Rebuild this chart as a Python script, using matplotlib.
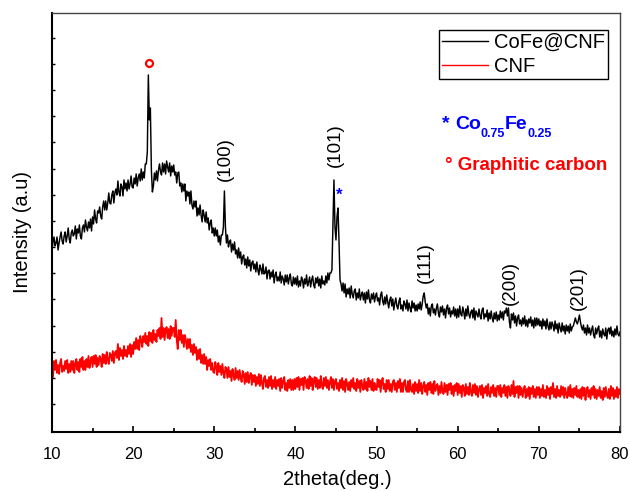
import matplotlib
matplotlib.use("Agg")
import matplotlib.pyplot as plt
import numpy as np

plt.rcParams["font.family"] = ["Liberation Sans", "DejaVu Sans"]

# 2theta scan, 0.125 deg step
two_theta = np.arange(10, 80.0001, 0.125)

# CoFe@CNF intensity (a.u.), one row per 5 degrees
cofe_cnf = [
    181, 190, 195, 186, 189, 195, 182, 189, 195, 200, 191, 188, 196, 200, 190, 196, 204, 193, 189, 199,
    202, 196, 198, 206, 193, 203, 199, 207, 196, 193, 204, 207, 200, 212, 205, 201, 210, 204, 213, 201,
    215, 208, 222, 213, 209, 221, 219, 225, 216, 213, 225, 231, 222, 231, 222, 229, 239, 229, 228, 237,
    241, 229, 239, 243, 237, 251, 240, 236, 248, 245, 236, 252, 243, 249, 241, 252, 243, 248, 256, 245,
    244, 254, 248, 258, 246, 254, 258, 251, 263, 252, 260, 254, 268, 268, 280, 357, 312, 324, 262, 240,
    246, 259, 252, 261, 251, 262, 268, 260, 257, 269, 260, 268, 258, 271, 265, 260, 269, 256, 266, 260,
    267, 257, 260, 249, 259, 260, 246, 249, 240, 248, 241, 248, 231, 241, 236, 240, 228, 241, 227, 223,
    231, 225, 231, 216, 224, 217, 227, 217, 210, 222, 217, 210, 220, 209, 214, 202, 209, 212, 199, 204,
    196, 204, 196, 202, 190, 196, 187, 197, 197, 205, 241, 205, 189, 197, 185, 190, 192, 180, 188, 182,
    190, 178, 182, 174, 184, 174, 180, 168, 175, 177, 167, 173, 164, 175, 166, 172, 161, 169, 171, 163,
    168, 160, 170, 162, 157, 167, 163, 158, 168, 158, 159, 165, 153, 161, 162, 153, 160, 155, 162, 149,
    157, 160, 151, 155, 151, 160, 149, 156, 153, 147, 157, 150, 157, 148, 154, 158, 148, 146, 155, 148,
    154, 147, 156, 145, 151, 146, 155, 152, 144, 153, 148, 157, 146, 150, 155, 145, 152, 156, 147, 144,
    154, 149, 155, 146, 153, 144, 156, 148, 151, 147, 156, 149, 159, 152, 159, 159, 162, 205, 252, 205,
    192, 215, 224, 190, 152, 148, 141, 149, 139, 148, 135, 143, 138, 144, 134, 146, 138, 134, 141, 143,
    132, 139, 134, 143, 132, 137, 140, 132, 139, 129, 140, 133, 142, 132, 129, 138, 133, 139, 130, 136,
    139, 131, 134, 127, 137, 140, 131, 127, 135, 128, 137, 130, 124, 132, 135, 126, 133, 122, 129, 134,
    126, 123, 130, 134, 123, 127, 121, 131, 128, 123, 132, 121, 129, 124, 120, 131, 124, 129, 121, 127,
    121, 128, 123, 130, 122, 128, 136, 139, 130, 124, 128, 118, 124, 116, 126, 128, 119, 123, 117, 124,
    128, 119, 115, 125, 120, 126, 117, 123, 114, 124, 127, 118, 124, 115, 121, 118, 125, 116, 123, 114,
    123, 115, 126, 118, 116, 125, 120, 113, 123, 116, 126, 118, 114, 120, 122, 114, 124, 112, 121, 118,
    115, 123, 116, 113, 122, 124, 113, 118, 115, 122, 111, 119, 113, 121, 114, 110, 119, 113, 120, 111,
    117, 112, 121, 114, 120, 112, 121, 119, 124, 116, 124, 110, 104, 118, 112, 119, 109, 116, 106, 114,
    117, 108, 112, 106, 114, 108, 116, 106, 112, 105, 113, 109, 115, 106, 112, 104, 114, 106, 114, 107,
    113, 106, 111, 103, 113, 106, 111, 103, 113, 106, 102, 110, 103, 110, 107, 101, 111, 103, 108, 99,
    109, 104, 100, 109, 101, 106, 98, 107, 101, 106, 99, 108, 101, 105, 106, 110, 114, 110, 108, 112,
    117, 110, 105, 102, 107, 99, 104, 97, 107, 99, 104, 97, 102, 106, 97, 94, 104, 98, 103, 106,
    95, 101, 94, 103, 98, 96, 104, 93, 102, 104, 98, 105, 96, 101, 95, 103, 97, 106, 98, 96,
    100,
]

# bare CNF intensity (a.u.)
cnf = [
    70, 55, 71, 62, 72, 59, 67, 58, 69, 73, 60, 66, 61, 71, 63, 72, 59, 68, 60, 71,
    62, 71, 59, 68, 73, 62, 70, 60, 73, 65, 75, 62, 71, 62, 73, 65, 76, 64, 71, 75,
    65, 76, 68, 77, 65, 74, 67, 76, 73, 65, 78, 69, 77, 68, 80, 72, 68, 79, 77, 71,
    81, 69, 79, 81, 74, 88, 72, 84, 76, 82, 73, 86, 76, 82, 75, 86, 78, 88, 75, 87,
    78, 90, 83, 94, 83, 92, 82, 96, 92, 85, 96, 90, 99, 88, 96, 86, 100, 91, 99, 89,
    102, 92, 98, 90, 102, 96, 104, 93, 114, 95, 104, 92, 102, 105, 94, 103, 93, 106, 96, 104,
    104, 95, 112, 92, 83, 102, 92, 102, 89, 97, 85, 97, 92, 83, 93, 84, 93, 80, 87, 77,
    88, 79, 85, 72, 82, 73, 83, 69, 77, 68, 78, 68, 75, 62, 72, 66, 73, 62, 69, 60,
    59, 70, 65, 57, 69, 60, 66, 57, 68, 59, 54, 65, 63, 54, 65, 55, 61, 51, 63, 57,
    52, 64, 54, 61, 52, 62, 54, 50, 61, 58, 48, 59, 50, 60, 49, 56, 59, 47, 57, 50,
    57, 46, 55, 48, 58, 46, 57, 49, 43, 54, 56, 45, 52, 44, 55, 46, 56, 43, 52, 45,
    55, 43, 52, 46, 53, 41, 54, 44, 51, 55, 42, 49, 41, 52, 44, 53, 42, 52, 42, 53,
    43, 54, 45, 55, 42, 53, 47, 54, 42, 55, 52, 44, 53, 43, 56, 46, 54, 42, 51, 55,
    45, 54, 43, 52, 44, 56, 47, 43, 54, 46, 55, 44, 52, 42, 50, 55, 44, 53, 42, 51,
    53, 43, 49, 41, 52, 44, 54, 42, 51, 40, 53, 48, 42, 50, 41, 52, 45, 54, 43, 49,
    41, 53, 44, 51, 40, 52, 46, 42, 53, 43, 50, 41, 54, 45, 51, 42, 53, 41, 49, 43,
    42, 53, 45, 52, 40, 50, 54, 43, 48, 40, 52, 43, 52, 41, 48, 40, 50, 52, 42, 49,
    40, 51, 44, 53, 40, 49, 40, 50, 52, 42, 40, 51, 40, 52, 42, 40, 48, 38, 50, 41,
    48, 39, 52, 41, 49, 38, 46, 50, 40, 47, 37, 49, 42, 50, 39, 48, 38, 51, 41, 46,
    48, 37, 46, 39, 50, 41, 38, 49, 40, 47, 37, 48, 42, 49, 38, 46, 36, 47, 41, 49,
    37, 48, 39, 46, 35, 47, 44, 36, 48, 38, 45, 37, 49, 40, 36, 47, 39, 48, 37, 46,
    35, 43, 46, 37, 47, 34, 44, 39, 46, 36, 48, 38, 35, 45, 39, 47, 36, 44, 35, 46,
    46, 37, 47, 35, 44, 39, 47, 36, 45, 34, 46, 42, 36, 47, 38, 51, 35, 45, 39, 46,
    34, 46, 37, 44, 35, 42, 46, 34, 43, 36, 45, 33, 44, 38, 46, 35, 43, 34, 45, 37,
    45, 34, 43, 36, 47, 35, 42, 34, 46, 37, 44, 33, 45, 38, 49, 35, 43, 34, 46, 36,
    42, 35, 46, 37, 45, 34, 44, 38, 34, 45, 36, 47, 35, 43, 34, 44, 37, 46, 35, 42,
    34, 43, 33, 45, 36, 44, 32, 41, 45, 35, 42, 33, 44, 37, 46, 34, 43, 33, 42, 36,
    45, 34, 41, 32, 44, 35, 45, 37, 34, 43, 33, 46, 36, 44, 33, 42, 35, 45, 34, 43,
    38,
]

# hkl labels for the CoFe reflections
hkl_labels = ["(100)", "(101)", "(111)", "(200)", "(201)"]
hkl_pos = [31.33, 44.88, 55.97, 66.45, 74.82]
hkl_height = [273, 287, 169, 149, 144]

# phase key: text piece, font size, baseline shift in pixels
phase_parts = [("* ", 14, 0), ("Co", 14, 0), ("0.75", 9, -8), ("Fe", 14, 0), ("0.25", 9, -8)]

fig = plt.figure(figsize=(6.3, 4.91), dpi=100)
ax = fig.add_axes([0.0825, 0.1202, 0.9016, 0.8534])

ax.plot(two_theta, cofe_cnf, color="black", lw=1.05, label="CoFe@CNF")
ax.plot(two_theta, cnf, color="red", lw=1.3, label="CNF")

for lab, xp, yp in zip(hkl_labels, hkl_pos, hkl_height):
    ax.text(xp, yp, lab, rotation=90, ha="center", va="center", fontsize=13.5)

# phase markers
ax.plot(21.9, 369, marker="o", ms=5, mfc="none", mec="red", mew=1.6)
ax.text(45.4, 237, "*", color="blue", fontsize=12, fontweight="bold",
        ha="center", va="center")

leg = ax.legend(loc="upper right", bbox_to_anchor=(0.979, 0.959), borderaxespad=0,
                fontsize=14.5, handlelength=2.3, handletextpad=0.3, borderpad=0.15,
                labelspacing=0.25, fancybox=False, framealpha=1, edgecolor="black")
leg.get_frame().set_linewidth(1.0)
for line in leg.get_lines():
    line.set_linewidth(1.0)

ax.set_xlim(10, 80)
ax.set_ylim(0, 419)
ax.set_xticks(np.arange(10, 81, 10))
ax.set_xticks(np.arange(15, 80, 10), minor=True)
ax.set_yticks(np.arange(28, 400, 26.15))
ax.set_yticklabels([])
ax.tick_params(axis="x", which="both", direction="in", labelsize=12, pad=11)
ax.tick_params(axis="x", which="major", length=4, width=1.2)
ax.tick_params(axis="x", which="minor", length=3, width=1.2)
ax.tick_params(axis="y", direction="in", length=2.5, width=1)

for side in ["left", "bottom"]:
    ax.spines[side].set_linewidth(1.5)
for side in ["top", "right"]:
    ax.spines[side].set_linewidth(1.0)
    ax.spines[side].set_color("#444444")

ax.set_xlabel("2theta(deg.)", fontsize=14.5)
ax.set_ylabel("Intensity (a.u)", fontsize=14.5)
ax.xaxis.set_label_coords(0.502, -0.091)
ax.yaxis.set_label_coords(-0.035, 0.478)

# Co0.75Fe0.25 key, built piece by piece so the subscripts sit low and small
fig.canvas.draw()
renderer = fig.canvas.get_renderer()
dx = 0
for s, size, dy in phase_parts:
    t = ax.annotate(s, xy=(58.06, 303), xytext=(dx, dy), textcoords="offset pixels",
                    color="blue", fontsize=size, fontweight="bold",
                    ha="left", va="baseline")
    dx += t.get_window_extent(renderer).width

ax.text(58.4, 262, "° Graphitic carbon", color="red", fontsize=13.5,
        fontweight="bold", va="baseline", ha="left")

fig.savefig("out.png", dpi=100)
